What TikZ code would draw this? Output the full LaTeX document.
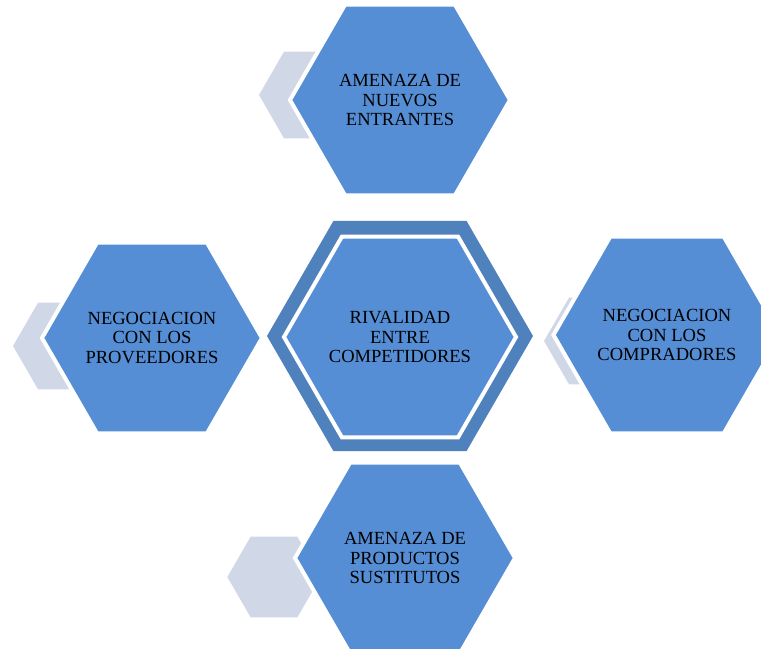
\documentclass[tikz,border=0pt]{standalone}
\usepackage{fontspec}
\setmainfont{Liberation Serif}
\usepackage{xcolor}
\usepackage{tikz}
\usetikzlibrary{shapes.geometric}

\definecolor{hexblue}{HTML}{558ED5}
\definecolor{ringblue}{HTML}{4F81BD}
\definecolor{tabgray}{HTML}{D0D8E8}

\begin{document}
\begin{tikzpicture}[x=0.75pt, y=-0.75pt,
    hexa/.style={regular polygon, regular polygon sides=6, inner sep=0pt, outer sep=0pt},
    force/.style={hexa, minimum size=165pt, fill=hexblue, draw=white, line width=3pt,
        align=center, font=\fontsize{13.9}{14.4}\selectfont},
    tab/.style={hexa, minimum size=75pt, fill=tabgray},
    ring/.style={hexa, minimum size=199.5pt, fill=ringblue}]
            \clip (0, 0) rectangle (761, 649);

            \node[tab] (tabnuevos) at (309, 95) {};
            \node[tab] (tabprov) at (63, 346) {};
            \node[tab] (tabcomp) at (594, 341) {};
            \node[tab, minimum size=70pt] (tabsust) at (274, 577) {};

            \node[ring] (ring) at (400, 336) {};
            \node[force] (rivalidad) at (400, 337) {RIVALIDAD\\ENTRE\\COMPETIDORES};

            \node[force] (nuevos) at (400, 100) {AMENAZA DE\\NUEVOS\\ENTRANTES};
            \node[force] (proveedores) at (152, 338) {NEGOCIACION\\CON LOS\\PROVEEDORES};
            \node[force] (compradores) at (667, 335) {NEGOCIACION\\CON LOS\\COMPRADORES};
            \node[force] (sustitutos) at (405, 558) {AMENAZA DE\\PRODUCTOS\\SUSTITUTOS};
        \end{tikzpicture}
\end{document}
